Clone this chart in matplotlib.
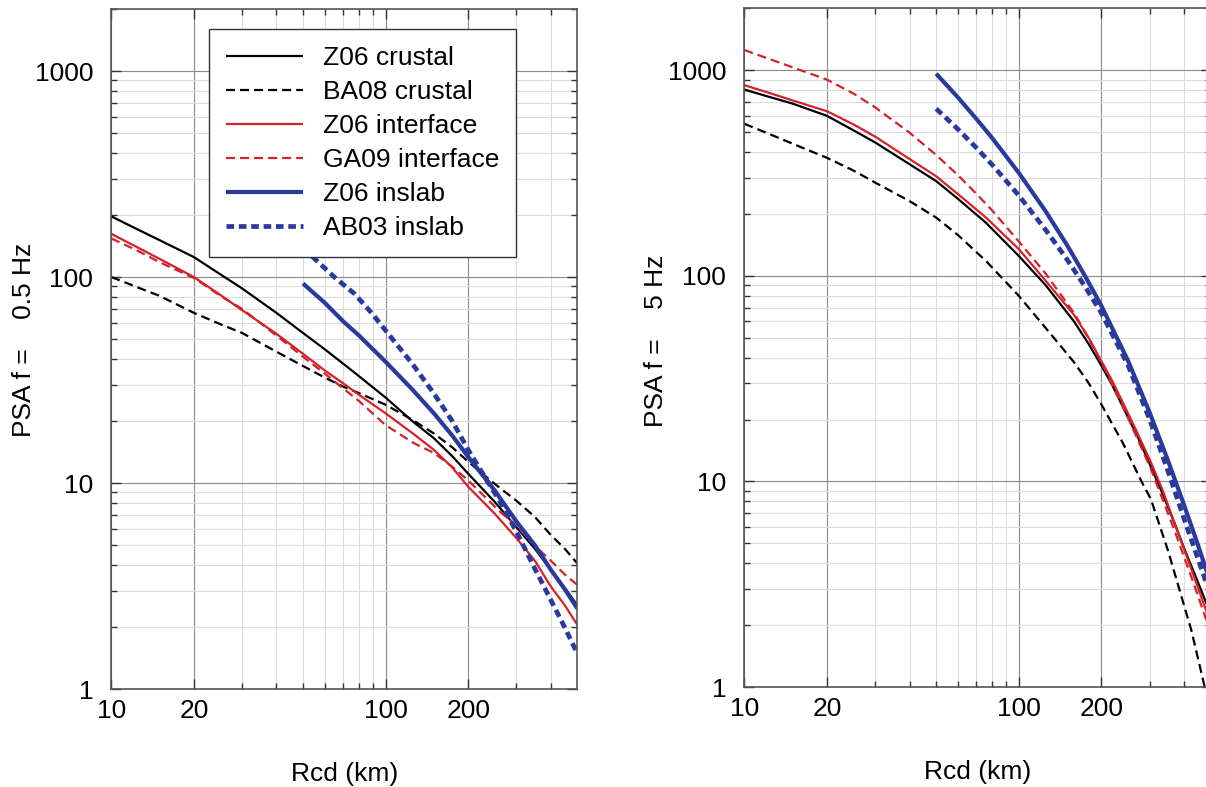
import matplotlib.pyplot as plt
from matplotlib.ticker import FixedLocator, FixedFormatter, NullFormatter

plt.rcParams['font.family'] = ['Liberation Sans', 'DejaVu Sans']
plt.rcParams['lines.scale_dashes'] = False

# ---- values: distance Rcd (km) and PSA ----
# f = 0.5 Hz panel
r_z06_crustal_a = [10, 12.5, 15, 20, 25, 30, 40, 50, 60, 70, 80, 100, 125, 150, 175, 200,
                   250, 300, 350, 400, 450, 500]
psa_z06_crustal_a = [197, 170, 151, 125, 103, 88, 67, 53.5, 44.6, 38, 33, 26, 20, 16.5, 13.5,
                     11.1, 8.1, 6.1, 4.8, 3.8, 3.1, 2.55]
r_ba08_crustal_a = [10, 12.5, 15, 20, 25, 30, 40, 50, 60, 70, 80, 100, 125, 150, 175, 200,
                    250, 300, 350, 400, 450, 500]
psa_ba08_crustal_a = [100, 89, 81, 67, 59, 53.5, 43.4, 37, 32.5, 29.4, 27.3, 24, 20.3, 17.4,
                      14.9, 12.7, 9.9, 8.2, 6.85, 5.6, 4.8, 4.07]
r_z06_interface_a = [10, 12.5, 15, 20, 25, 30, 40, 50, 60, 70, 80, 100, 125, 150, 175, 200,
                     250, 300, 350, 400, 450, 500]
psa_z06_interface_a = [162, 139, 122.5, 100, 81.8, 69, 53, 42.4, 35.2, 30.5, 26.8, 21.8, 17.5,
                       14.5, 11.9, 9.6, 7.1, 5.4, 4.2, 3.15, 2.55, 2.05]
r_ga09_interface_a = [10, 12.5, 15, 20, 25, 30, 40, 50, 60, 70, 80, 100, 127, 150, 175, 200,
                      263, 300, 348, 400, 450, 500]
psa_ga09_interface_a = [154, 134, 118, 99, 81, 70, 52, 41, 34, 28.8, 25, 19.1, 15.6, 14.0, 12.0,
                        10.3, 7.2, 6.2, 5.0, 4.2, 3.6, 3.2]
r_z06_inslab_a = [50, 60, 70, 80, 100, 125, 150, 175, 200, 250, 300, 350, 400, 450, 500]
psa_z06_inslab_a = [93, 75, 61, 52, 38.8, 28.5, 21.8, 17, 13.4, 9.2, 6.5, 5.0, 3.8, 3.05, 2.46]
r_ab03_inslab_a = [50, 55, 65, 77, 90, 100, 125, 150, 175, 200, 230, 263, 300, 348, 400, 450, 500]
psa_ab03_inslab_a = [138, 123, 100, 83, 65.7, 55, 38, 27.2, 20, 14.5, 10.7, 8.0, 5.8, 3.9, 2.71,
                     1.99, 1.49]

# f = 5 Hz panel
r_z06_crustal_b = [10, 12.5, 15, 20, 25, 30, 40, 50, 60, 76, 100, 125, 159, 180, 200, 220, 242,
                   270, 303, 335, 369, 400, 430, 460, 500]
psa_z06_crustal_b = [805, 738, 688, 600, 510, 445, 349, 289, 237, 181, 125, 90.4, 60, 46.5, 36.6,
                     29.1, 22.4, 16.7, 11.8, 8.65, 6.3, 4.75, 3.75, 3.0, 2.27]
r_ba08_crustal_b = [10, 12.5, 15, 20, 25, 30, 40, 50, 60, 76, 100, 125, 159, 180, 200, 240, 280,
                    303, 350, 400, 425, 476, 500]
psa_ba08_crustal_b = [549, 486, 439, 375, 325, 284, 231, 192, 158, 118, 80, 56, 38, 30, 23.7,
                      15.3, 10, 8.2, 4.6, 2.5, 1.9, 1.0, 0.78]
r_z06_interface_b = [10, 12.5, 15, 20, 25, 30, 40, 50, 60, 76, 100, 125, 159, 180, 200, 220, 242,
                     270, 303, 335, 369, 400, 430, 460, 500]
psa_z06_interface_b = [846, 771, 713, 632, 545, 475, 370, 305, 250, 192, 135, 95, 64.6, 49.8, 38.5,
                       30.5, 23.5, 17.3, 12.4, 9.0, 6.3, 4.7, 3.6, 2.8, 2.05]
r_ga09_interface_b = [10, 12.5, 15, 20, 25, 30, 40, 50, 60, 70, 80, 100, 125, 159, 180, 200, 242,
                      303, 369, 430, 500]
psa_ga09_interface_b = [1254, 1127, 1033, 900, 770, 659, 497, 387, 309, 251, 208, 147, 103, 66,
                        49.5, 38, 22.5, 11.5, 5.8, 3.3, 1.85]
r_z06_inslab_b = [50, 60, 70, 80, 100, 125, 150, 175, 200, 250, 300, 350, 400, 450, 500]
psa_z06_inslab_b = [962, 738, 581, 468, 317, 207, 141, 99, 71.5, 38.7, 21.6, 12.6, 7.7, 4.9, 3.2]
r_ab03_inslab_b = [50, 60, 70, 80, 100, 125, 150, 175, 200, 250, 300, 350, 400, 450, 500]
psa_ab03_inslab_b = [650, 517, 420, 347, 246, 168, 120, 88, 66, 36.8, 20, 11.2, 6.6, 4.2, 2.8]

labels = ['Z06 crustal', 'BA08 crustal', 'Z06 interface', 'GA09 interface',
          'Z06 inslab', 'AB03 inslab']
x_major = [10, 20, 100, 200]
x_minor = [30, 40, 50, 60, 70, 80, 90, 300, 400]
y_major = [1, 10, 100, 1000]
y_minor = [m * 10 ** k for k in range(4) for m in range(2, 10) if m * 10 ** k <= 2000]

RED = '#d4222a'
BLUE = '#2a3a9c'
styles = [
    dict(color='black', lw=1.6, ls='-'),
    dict(color='black', lw=1.6, dashes=(6.5, 3.6)),
    dict(color=RED, lw=1.6, ls='-'),
    dict(color=RED, lw=1.6, dashes=(6.5, 3.6)),
    dict(color=BLUE, lw=3.0, ls='-'),
    dict(color=BLUE, lw=3.4, dashes=(5.5, 3.4)),
]


def setup_axes(ax, ylabel, label_x, label_y):
    ax.set_xscale('log')
    ax.set_yscale('log')
    ax.set_xlim(10, 500)
    ax.set_ylim(1, 2000)
    ax.xaxis.set_major_locator(FixedLocator(x_major))
    ax.xaxis.set_minor_locator(FixedLocator(x_minor))
    ax.xaxis.set_major_formatter(FixedFormatter([str(v) for v in x_major]))
    ax.xaxis.set_minor_formatter(NullFormatter())
    ax.yaxis.set_major_locator(FixedLocator(y_major))
    ax.yaxis.set_minor_locator(FixedLocator(y_minor))
    ax.yaxis.set_major_formatter(FixedFormatter([str(v) for v in y_major]))
    ax.yaxis.set_minor_formatter(NullFormatter())
    ax.set_axisbelow(True)
    ax.grid(which='major', color='#8a8a8a', lw=0.8)
    ax.grid(which='minor', color='#dcdcdc', lw=0.8)
    ax.tick_params(which='both', direction='in', top=True, right=True,
                   colors='#333333', labelcolor='black', labelsize=19)
    ax.tick_params(which='major', length=7, width=1.0)
    ax.tick_params(which='minor', length=4, width=1.0)
    ax.tick_params(axis='y', pad=13)
    ax.tick_params(axis='x', pad=7)
    for sp in ax.spines.values():
        sp.set_color('#555555')
        sp.set_linewidth(1.2)
    ax.set_xlabel('Rcd (km)', fontsize=19, labelpad=28)
    ax.set_ylabel(ylabel, fontsize=19)
    ax.yaxis.set_label_coords(label_x, label_y)


fig = plt.figure(figsize=(12.06, 7.87), dpi=100)
ax1 = fig.add_axes([0.0923, 0.1245, 0.3864, 0.8640])
ax2 = fig.add_axes([0.6172, 0.127, 0.3866, 0.8624])

data_a = [(r_z06_crustal_a, psa_z06_crustal_a), (r_ba08_crustal_a, psa_ba08_crustal_a),
          (r_z06_interface_a, psa_z06_interface_a), (r_ga09_interface_a, psa_ga09_interface_a),
          (r_z06_inslab_a, psa_z06_inslab_a), (r_ab03_inslab_a, psa_ab03_inslab_a)]
data_b = [(r_z06_crustal_b, psa_z06_crustal_b), (r_ba08_crustal_b, psa_ba08_crustal_b),
          (r_z06_interface_b, psa_z06_interface_b), (r_ga09_interface_b, psa_ga09_interface_b),
          (r_z06_inslab_b, psa_z06_inslab_b), (r_ab03_inslab_b, psa_ab03_inslab_b)]

for (r, p), lab, st in zip(data_a, labels, styles):
    ax1.plot(r, p, label=lab, solid_capstyle='butt', **st)
for (r, p), st in zip(data_b, styles):
    ax2.plot(r, p, solid_capstyle='butt', **st)

setup_axes(ax1, 'PSA f =    0.5 Hz', -0.161, 0.513)
setup_axes(ax2, 'PSA f =    5 Hz', -0.163, 0.51)

leg = ax1.legend(loc='upper left', bbox_to_anchor=(0.2097, 0.9706), borderaxespad=0,
                 fontsize=19, handlelength=2.9, handletextpad=0.75,
                 labelspacing=0.38, borderpad=0.65, fancybox=False,
                 framealpha=1, edgecolor='#333333')
leg.get_frame().set_linewidth(1.0)

fig.savefig('out.png', dpi=100)
